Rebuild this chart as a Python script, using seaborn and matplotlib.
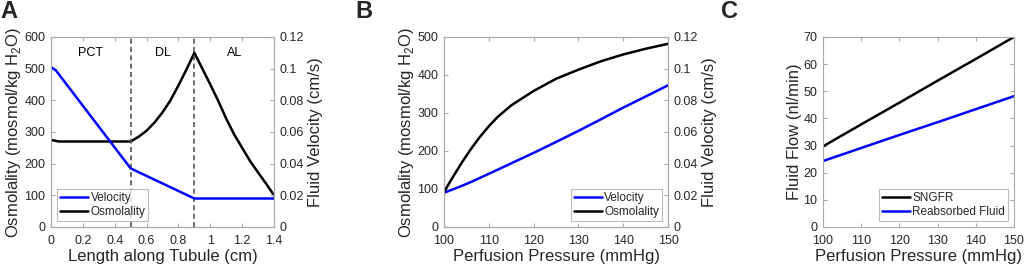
import numpy as np
import pandas as pd
import seaborn as sns
import matplotlib.pyplot as plt

sns.set_style('white')
plt.rcParams['font.family'] = ['Liberation Sans', 'DejaVu Sans']
plt.rcParams['mathtext.fontset'] = 'custom'
plt.rcParams['mathtext.rm'] = 'Liberation Sans'

# panel A: along the tubule
length_osm = [0, 0.05, 0.1, 0.5, 0.55, 0.6, 0.65, 0.7, 0.75, 0.8, 0.85, 0.9,
              1.0, 1.05, 1.1, 1.15, 1.2, 1.25, 1.3, 1.35, 1.4]
osm_a = [275, 270, 270, 270, 285, 304, 330, 362, 400, 447, 497, 550,
         450, 398, 342, 292, 250, 208, 172, 137, 100]
length_vel = [0, 0.03, 0.5, 0.9, 1.4]
vel_a = [0.101, 0.099, 0.037, 0.018, 0.018]
segments = ['PCT', 'DL', 'AL']
segment_x = [0.25, 0.7, 1.15]
boundaries = [0.5, 0.9]

# panel B: perfusion pressure
pressure_b = [100, 102, 104, 106, 108, 110, 112, 115, 120, 125, 130, 135, 140, 145, 150]
osm_b = [92, 132, 170, 205, 237, 265, 290, 320, 358, 390, 414, 436, 454, 469, 482]
vel_b = [0.0216, 0.0238, 0.0260, 0.0284, 0.0310, 0.0336, 0.0362, 0.0402, 0.0468,
         0.0537, 0.0607, 0.068, 0.0754, 0.0824, 0.0895]

# panel C: flows
pressure_c = [100, 110, 120, 130, 140, 150]
sngfr = [29.7, 37.8, 45.8, 53.9, 61.9, 70.0]
reabsorbed = [24.3, 29.1, 33.9, 38.6, 43.4, 48.2]

BLUE = '#0000ff'
SPINE = '#aaaaaa'
TXT = '#262626'
TICK = 9
LAB = 12
LEG = 8.5
LW = 1.8

fig = plt.figure(figsize=(10.24, 2.68), dpi=100)
axA = fig.add_axes([0.0498, 0.153, 0.2178, 0.709])
axB = fig.add_axes([0.4336, 0.153, 0.2188, 0.709])
axC = fig.add_axes([0.8037, 0.153, 0.1865, 0.709])


def style(ax, right=False):
    for s in ax.spines.values():
        s.set_color(SPINE)
        s.set_linewidth(0.8)
    ax.tick_params(direction='in', length=3, width=0.8, color=SPINE,
                   labelsize=TICK, labelcolor=TXT, pad=4,
                   left=not right, right=right, bottom=True)
    ax.tick_params(axis='x', pad=6)


def box_legend(ax, *args, **kw):
    leg = ax.legend(*args, fontsize=LEG, frameon=True, fancybox=False,
                    edgecolor=SPINE, handlelength=2.4, handletextpad=0.2,
                    borderpad=0.25, labelspacing=0.15, borderaxespad=0.5, **kw)
    leg.get_frame().set_linewidth(0.8)
    return leg


ylab = r'Osmolality (mosmol/kg H$_\mathregular{2}$O)'

# ---- A ----
axA2 = axA.twinx()
sns.lineplot(x=length_osm, y=osm_a, ax=axA, color='black', lw=LW, legend=False)
sns.lineplot(x=length_vel, y=vel_a, ax=axA2, color=BLUE, lw=LW, legend=False)
for b in boundaries:
    axA.axvline(b, color='#555555', ls='--', lw=1.2, dashes=(3, 2))
for name, xs in zip(segments, segment_x):
    axA.text(xs, 550, name, ha='center', va='center', fontsize=TICK, color='black')
axA.set_xlim(0, 1.4)
axA.set_ylim(0, 600)
axA2.set_ylim(0, 0.12)
axA.set_xticks(np.arange(0, 1.41, 0.2))
axA.set_xticklabels(['0', '0.2', '0.4', '0.6', '0.8', '1', '1.2', '1.4'])
axA2.set_yticks(np.arange(0, 0.121, 0.02))
axA2.set_yticklabels(['0', '0.02', '0.04', '0.06', '0.08', '0.1', '0.12'])
axA.set_xlabel('Length along Tubule (cm)', fontsize=LAB, color=TXT, labelpad=1)
axA.set_ylabel(ylab, fontsize=LAB, color=TXT, labelpad=1)
axA2.set_ylabel('Fluid Velocity (cm/s)', fontsize=LAB, color=TXT, labelpad=3)
style(axA)
style(axA2, right=True)
h = [plt.Line2D([], [], color=BLUE, lw=LW), plt.Line2D([], [], color='black', lw=LW)]
box_legend(axA, h, ['Velocity', 'Osmolality'], loc='lower left')

# ---- B ----
axB2 = axB.twinx()
sns.lineplot(x=pressure_b, y=osm_b, ax=axB, color='black', lw=LW, legend=False)
sns.lineplot(x=pressure_b, y=vel_b, ax=axB2, color=BLUE, lw=LW, legend=False)
axB.set_xlim(100, 150)
axB.set_ylim(0, 500)
axB2.set_ylim(0, 0.12)
axB2.set_yticks(np.arange(0, 0.121, 0.02))
axB2.set_yticklabels(['0', '0.02', '0.04', '0.06', '0.08', '0.1', '0.12'])
axB.set_xlabel('Perfusion Pressure (mmHg)', fontsize=LAB, color=TXT, labelpad=1)
axB.set_ylabel(ylab, fontsize=LAB, color=TXT, labelpad=1)
axB2.set_ylabel('Fluid Velocity (cm/s)', fontsize=LAB, color=TXT, labelpad=3)
style(axB)
style(axB2, right=True)
axB2.set_zorder(axB.get_zorder() - 1)
axB.patch.set_visible(False)
box_legend(axB, h, ['Velocity', 'Osmolality'], loc='lower right')

# ---- C ----
flow = pd.DataFrame({'pressure': pressure_c * 2,
                     'flow': sngfr + reabsorbed,
                     'series': ['SNGFR'] * len(sngfr) + ['Reabsorbed Fluid'] * len(reabsorbed)})
sns.lineplot(data=flow, x='pressure', y='flow', hue='series',
             palette={'SNGFR': 'black', 'Reabsorbed Fluid': BLUE}, lw=LW, ax=axC)
axC.set_xlim(100, 150)
axC.set_ylim(0, 70)
axC.set_xlabel('Perfusion Pressure (mmHg)', fontsize=LAB, color=TXT, labelpad=1)
axC.set_ylabel('Fluid Flow (nl/min)', fontsize=LAB, color=TXT, labelpad=1)
style(axC)
axC.tick_params(right=True)
leg = box_legend(axC, loc='lower right', title=None)
for l in leg.get_lines():
    l.set_linewidth(LW)

for ax in (axA, axB, axC):
    ax.tick_params(top=True, direction='in')

fig.text(0.0, 1.0, 'A', fontsize=17, fontweight='bold', va='top', ha='left')
fig.text(0.347, 1.0, 'B', fontsize=17, fontweight='bold', va='top', ha='left')
fig.text(0.704, 1.0, 'C', fontsize=17, fontweight='bold', va='top', ha='left')

fig.savefig('out.png', dpi=100)
